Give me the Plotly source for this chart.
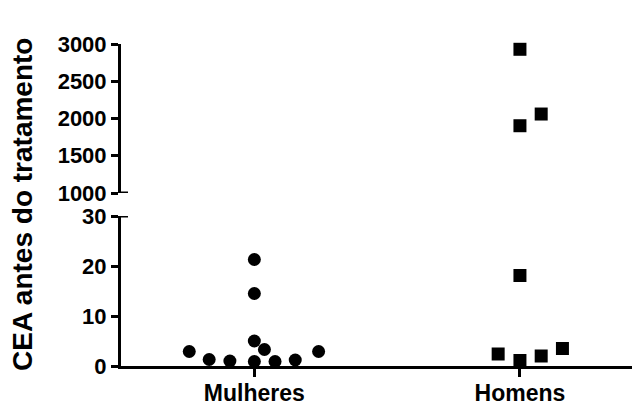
import plotly.graph_objects as go

categories = ["Mulheres", "Homens"]

# Mulheres (circles): CEA values and horizontal dot-plot spread (in category units)
mulheres_cea = [2.9, 1.3, 1.0, 21.3, 14.5, 5.0, 3.3, 0.9, 0.9, 1.2, 2.9]
mulheres_spread = [-0.245, -0.17, -0.092, 0.0, 0.0, 0.0, 0.038, 0.0, 0.078, 0.154, 0.242]

# Homens (squares)
homens_cea = [2929, 2060, 1903, 18.1, 2.4, 1.1, 2.0, 3.5]
homens_spread = [0.0, 0.08, 0.0, 0.0, -0.082, 0.0, 0.08, 0.16]

y_low_ticks = [0, 10, 20, 30]
y_high_ticks = [1000, 1500, 2000, 2500, 3000]
y_title = "CEA antes do tratamento"

BREAK_LOW = 30
BREAK_HIGH = 1000

FONT = "Liberation Sans, Arial, sans-serif"

# the page body has a default 8px margin; size the figure to fit the window
PAGE_OFF = 8
W, H = 640 - PAGE_OFF, 401 - PAGE_OFF
L, T = 121 - PAGE_OFF, 44 - PAGE_OFF
AXIS_Y = 366 - PAGE_OFF
B = H - AXIS_Y
PLOT_W = W - L

fig = go.Figure()


def split(vals, spread, cat_index, high):
    xs, ys = [], []
    for v, s in zip(vals, spread):
        if (v >= BREAK_HIGH) == high:
            xs.append(cat_index + s)
            ys.append(v)
    return xs, ys


for name, vals, spread, idx, sym, size in [
    ("Mulheres", mulheres_cea, mulheres_spread, 0, "circle", 13),
    ("Homens", homens_cea, homens_spread, 1, "square", 13),
]:
    for high in (False, True):
        xs, ys = split(vals, spread, idx, high)
        if not xs:
            continue
        fig.add_trace(go.Scatter(
            x=xs, y=ys, mode="markers",
            marker=dict(symbol=sym, size=size, color="black", line=dict(width=0)),
            xaxis="x", yaxis="y2" if high else "y",
            cliponaxis=False, showlegend=False, name=name,
        ))

plot_h = 366 - 44
low_top = (366 - 216) / plot_h
high_bot = (366 - 193) / plot_h

tickfont = dict(family=FONT, size=22, color="black", weight="bold")

fig.update_layout(
    width=W, height=H,
    margin=dict(l=L, r=0, t=T, b=B),
    paper_bgcolor="white", plot_bgcolor="white",
    xaxis=dict(
        range=[-0.502, 1.452], tickvals=[0, 1], ticktext=categories,
        showline=True, linecolor="black", linewidth=3,
        ticks="outside", ticklen=8, tickwidth=3, tickcolor="black",
        ticklabelstandoff=-4,
        showgrid=False, zeroline=False, anchor="y", automargin=False,
        tickfont=dict(family=FONT, size=23, color="black", weight="bold"),
    ),
    yaxis=dict(
        domain=[0, low_top], range=[0, 30], tickvals=y_low_ticks,
        showline=True, linecolor="black", linewidth=3,
        ticks="outside", ticklen=7, tickwidth=3, tickcolor="black",
        showgrid=False, zeroline=False, anchor="x", automargin=False,
        tickfont=tickfont,
    ),
    yaxis2=dict(
        domain=[high_bot, 1], range=[1000, 3000], tickvals=y_high_ticks,
        showline=True, linecolor="black", linewidth=3,
        ticks="outside", ticklen=7, tickwidth=3, tickcolor="black",
        showgrid=False, zeroline=False, anchor="x", automargin=False,
        tickfont=tickfont,
    ),
    annotations=[dict(
        text=y_title, textangle=-90, xref="paper", yref="paper",
        x=-99 / PLOT_W, y=0.5, xanchor="center", yanchor="middle", showarrow=False,
        font=dict(family=FONT, size=28, color="black", weight="bold"),
    )],
    shapes=[
        dict(type="line", xref="paper", yref="y", x0=0, x1=7 / PLOT_W,
             y0=BREAK_LOW, y1=BREAK_LOW, line=dict(color="black", width=3)),
        dict(type="line", xref="paper", yref="y2", x0=0, x1=7 / PLOT_W,
             y0=BREAK_HIGH, y1=BREAK_HIGH, line=dict(color="black", width=3)),
    ],
)

fig.write_html("out.html")
